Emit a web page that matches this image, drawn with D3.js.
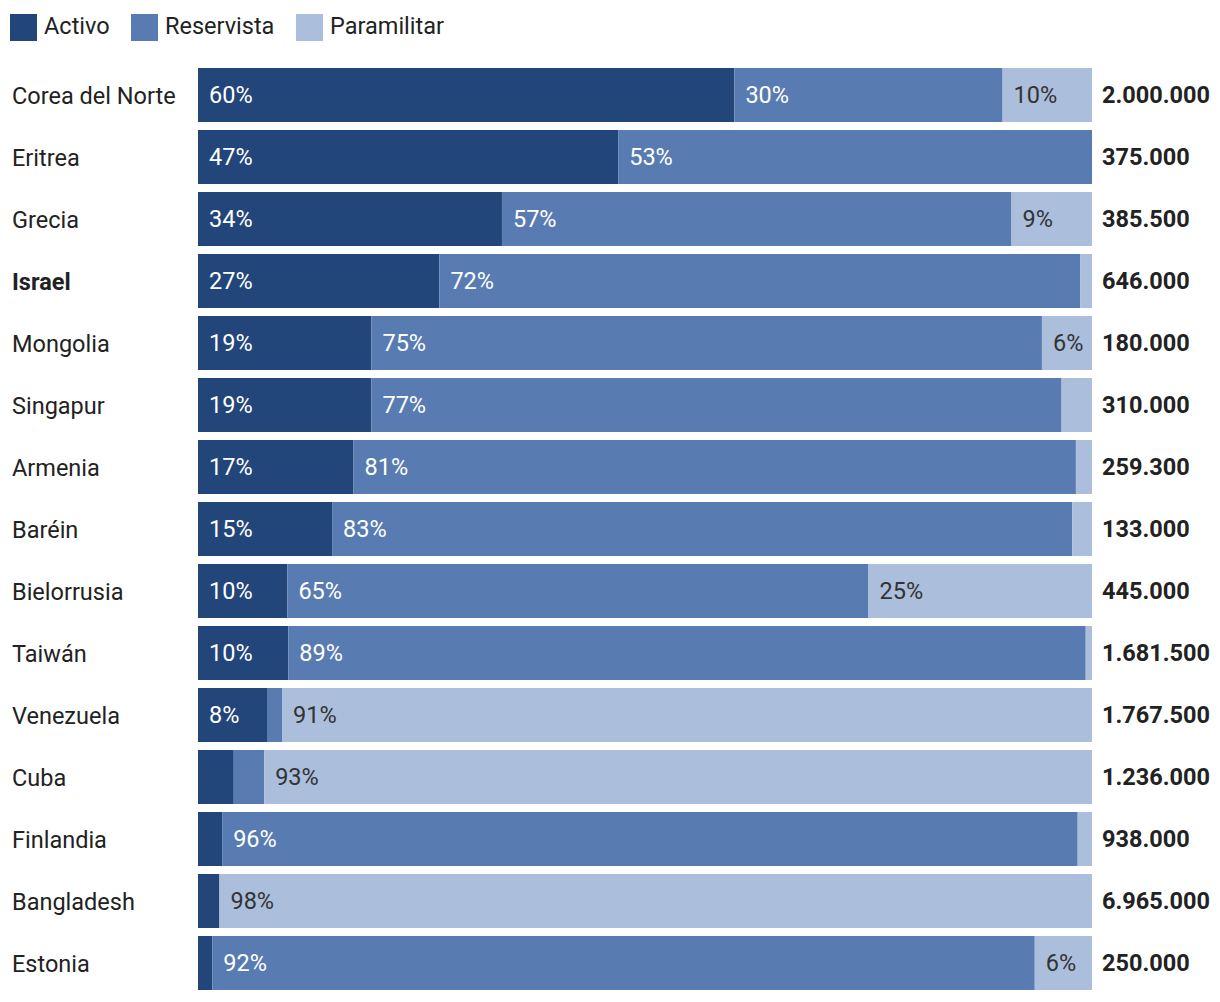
<!DOCTYPE html>
<html><head><meta charset="utf-8">
<script src="https://cdn.jsdelivr.net/npm/d3@7"></script>
<style>body{margin:0;background:#fff;}svg{display:block;font-family:Roboto,"Noto Sans",sans-serif;}</style>
</head><body>
<svg id="c" width="1220" height="1002"></svg>
<script>
const countries = ["Corea del Norte","Eritrea","Grecia","Israel","Mongolia","Singapur","Armenia","Baréin","Bielorrusia","Taiwán","Venezuela","Cuba","Finlandia","Bangladesh","Estonia"];
const activo =      [60, 47, 34, 27, 19.4, 19.4, 17.4, 15, 10, 10.1, 7.8, 4, 2.7, 2.4, 1.6];
const reservista =  [30, 53, 57, 71.7, 75, 77.2, 80.8, 82.8, 65, 89.2, 1.6, 3.4, 95.7, 0, 92];
const paramilitar = [10, 0, 9, 1.3, 5.6, 3.4, 1.8, 2.2, 25, 0.7, 90.6, 92.6, 1.6, 97.6, 6.4];
const totals = ["2.000.000","375.000","385.500","646.000","180.000","310.000","259.300","133.000","445.000","1.681.500","1.767.500","1.236.000","938.000","6.965.000","250.000"];
const highlight = ["Israel"];
const seriesNames = ["Activo","Reservista","Paramilitar"];
const colors = ["#23467a","#587cb1","#abbedb"];
const labelColors = ["#ffffff","#ffffff","#333333"];

const svg = d3.select("#c");
const x = d3.scaleLinear().domain([0,100]).range([198,1092]);
const y = d3.scaleBand().domain(countries).range([68,990]).paddingInner(8/62).paddingOuter(0);

const rows = countries.map((c,i)=>({country:c, Activo:activo[i], Reservista:reservista[i], Paramilitar:paramilitar[i]}));
const stack = d3.stack().keys(seriesNames)(rows);

// legend
const leg = svg.append("g");
const legX = [10,131,296];
seriesNames.forEach((s,i)=>{
  leg.append("rect").attr("x",legX[i]).attr("y",14).attr("width",27).attr("height",27).attr("fill",colors[i]);
  leg.append("text").attr("x",legX[i]+34).attr("y",34).attr("font-size",23.5).attr("fill","#222").text(s);
});

stack.forEach((layer,si)=>{
  const g = svg.append("g");
  layer.forEach((d,i)=>{
    const w = x(d[1])-x(d[0]);
    if (w<=0) return;
    g.append("rect").attr("x",x(d[0])).attr("y",y(countries[i])).attr("width",w).attr("height",y.bandwidth()).attr("fill",colors[si]);
    const v = d[1]-d[0];
    if (v>=5){
      g.append("text").attr("x",x(d[0])+11).attr("y",y(countries[i])+y.bandwidth()/2+8)
        .attr("font-size",23.5).attr("fill",labelColors[si]).text(Math.round(v)+"%");
    }
  });
});

// category labels
svg.append("g").selectAll("text").data(countries).join("text")
  .attr("x",12).attr("y",d=>y(d)+y.bandwidth()/2+9)
  .attr("font-size",23.5).attr("fill","#222")
  .attr("font-weight",d=>highlight.includes(d)?"bold":"normal")
  .text(d=>d);

// totals
svg.append("g").selectAll("text").data(countries).join("text")
  .attr("x",1102).attr("y",(d)=>y(d)+y.bandwidth()/2+8)
  .attr("font-size",23.5).attr("font-weight","bold").attr("fill","#222")
  .text((d,i)=>totals[i]);
</script>
</body></html>
